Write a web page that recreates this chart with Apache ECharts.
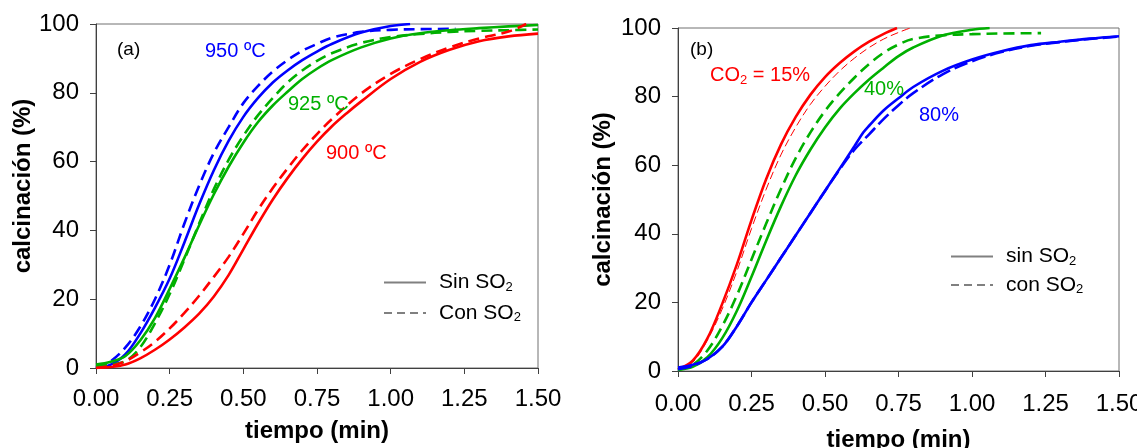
<!DOCTYPE html>
<html><head><meta charset="utf-8">
<script src="https://cdn.jsdelivr.net/npm/echarts@6/dist/echarts.min.js"></script>
<style>html,body{margin:0;padding:0;background:#fff}#c{width:1137px;height:448px}</style>
</head><body><div id="c"></div>
<script>
// ---------- data: panel (a), temperature effect ----------
const tA950sin = [0,0.05,0.1,0.15,0.2,0.25,0.3,0.35,0.4,0.45,0.5,0.55,0.6,0.65,0.7,0.75,0.8,0.9,1.0,1.066];
const cA950sin = [0,1,4,10,17.5,26,36.5,47.5,57.5,66,73,78.5,83,86.5,89.5,92,94.2,97.5,99.4,100];
const tA950con = [0,0.05,0.1,0.15,0.2,0.25,0.3,0.35,0.4,0.45,0.5,0.55,0.6,0.65,0.7,0.75,0.8,0.9,1.0,1.1,1.22];
const cA950con = [0,2,6,12,20,30,42,53,62.5,70,77,82,86.2,89.5,92.2,94.2,96,97.7,98.3,98.5,98.6];
const tA925sin = [0,0.05,0.1,0.15,0.2,0.25,0.3,0.35,0.4,0.45,0.5,0.55,0.6,0.65,0.7,0.75,0.8,0.9,1.0,1.1,1.2,1.3,1.4,1.5];
const cA925sin = [1,1.8,3.5,8,14.5,23,32,41.5,50.5,58.5,65.5,71.5,76.3,80.3,84,87,89.5,93.2,95.8,97.3,98.2,98.8,99.3,99.7];
const tA925con = [0,0.05,0.1,0.15,0.2,0.25,0.3,0.35,0.4,0.45,0.5,0.55,0.6,0.65,0.7,0.75,0.8,0.9,1.0,1.1,1.2,1.3,1.4,1.5];
const cA925con = [0.5,1,2,6,13,21.5,31.5,42,52,60.5,67.5,73.5,78.5,83,86.5,89.3,91.5,94.5,96.2,97.1,97.7,98,98.2,98.4];
const tA900sin = [0,0.05,0.1,0.15,0.2,0.25,0.3,0.35,0.4,0.45,0.5,0.55,0.6,0.65,0.7,0.75,0.8,0.85,0.9,1.0,1.1,1.2,1.3,1.4,1.5];
const cA900sin = [0,0.3,1,2.8,5.3,8.3,11.8,15.8,20.8,27,34.5,42,49,55.2,60.8,65.8,70.2,74,77.5,84,89,92.5,95,96.4,97.2];
const tA900con = [0,0.05,0.1,0.15,0.2,0.25,0.3,0.35,0.4,0.45,0.5,0.55,0.6,0.65,0.7,0.75,0.8,0.9,1.0,1.1,1.2,1.3,1.4,1.46];
const cA900con = [0,0.6,2,4.5,7.6,11.5,16,21,26.5,32.3,39,46,52.3,58,63.3,68,72.3,79.8,85.5,89.8,93.2,95.8,97.8,100];

// ---------- data: panel (b), CO2 effect ----------
const tB15sin = [0,0.05,0.1,0.15,0.2,0.25,0.3,0.35,0.4,0.45,0.5,0.55,0.6,0.65,0.7,0.745];
const cB15sin = [0.5,3,9.5,19.5,31,44,56,66,74,80.5,85.7,89.8,93.2,96,98.3,100];
const tB15con = [0,0.05,0.1,0.15,0.2,0.25,0.3,0.35,0.4,0.45,0.5,0.55,0.6,0.65,0.7,0.75,0.79];
const cB15con = [0.5,2.5,9,18,29,41.5,53,63,71,77.7,83,87.5,91.2,94.3,96.8,98.7,100];
const tB40sin = [0,0.05,0.1,0.15,0.2,0.25,0.3,0.35,0.4,0.45,0.5,0.55,0.6,0.65,0.7,0.75,0.8,0.9,1.0,1.06];
const cB40sin = [0.3,1.2,4,9.5,17.5,27.5,38,48,57,64.5,71,76.5,81,85,88.5,91.8,94.3,97.8,99.5,100];
const tB40con = [0,0.05,0.1,0.15,0.2,0.25,0.3,0.35,0.4,0.45,0.5,0.55,0.6,0.65,0.7,0.75,0.8,0.9,1.0,1.1,1.235];
const cB40con = [0.3,1.8,6,13,22,32.5,43,53,62,69.5,75.8,81,85.5,89.5,92.8,95.2,96.8,97.9,98.2,98.4,98.5];
const tB80sin = [0,0.05,0.1,0.15,0.2,0.25,0.3,0.35,0.4,0.45,0.5,0.55,0.6,0.63,0.65,0.7,0.75,0.8,0.9,1.0,1.1,1.2,1.3,1.4,1.5];
const cB80sin = [1,1.8,3.5,7,13,20,26.5,33,39.5,46,52.5,59,65.5,69.5,71.5,76,79.5,82.8,87.5,90.8,93.2,95,96,96.9,97.6];
const tB80con = [0,0.05,0.1,0.15,0.2,0.25,0.3,0.35,0.4,0.45,0.5,0.55,0.6,0.65,0.7,0.75,0.8,0.9,1.0,1.1,1.2,1.3,1.4,1.5];
const cB80con = [0.5,1.5,3.5,7,13,20,26.5,33,39.5,46,52.5,58.8,64.5,69,73.5,77.5,81,86.5,90.3,93,94.8,95.9,96.8,97.5];

const BLUE = '#0000ff', GREEN = '#00b000', RED = '#ff0000', GREY = '#808080';
const FONT = 'Liberation Sans, Arial, sans-serif';

function zip(t, c) { return t.map((v, i) => [v, c[i]]); }
function curve(name, g, t, c, color, dashed, width, dash) {
  return {
    type: 'line', name: name, xAxisIndex: g, yAxisIndex: g,
    data: zip(t, c), showSymbol: false, symbol: 'none', smooth: 0.35,
    lineStyle: { color: color, width: width || 2.6, type: dashed ? (dash || [11, 6]) : 'solid' },
    emphasis: { disabled: true }, silent: true, z: 3
  };
}
function dummy(name, g, dashed) {
  return {
    type: 'line', name: name, xAxisIndex: g, yAxisIndex: g, data: [], symbol: 'none',
    lineStyle: { color: GREY, width: 1.6, type: dashed ? [8, 5] : 'solid' },
    itemStyle: { color: 'rgba(0,0,0,0)', borderWidth: 0 }
  };
}
function xAx(g, gap, margin) {
  return {
    type: 'value', gridIndex: g, min: 0, max: 1.5, interval: 0.25,
    name: 'tiempo (min)', nameLocation: 'middle', nameGap: gap,
    nameTextStyle: { fontFamily: FONT, fontSize: 24, fontWeight: 'bold', color: '#000' },
    axisLine: { show: true, lineStyle: { color: '#404040', width: 1 } },
    axisTick: { show: true, inside: false, length: 6, lineStyle: { color: '#404040' } },
    axisLabel: { margin: margin, fontFamily: FONT, fontSize: 24, color: '#000', formatter: v => v.toFixed(2) },
    splitLine: { show: false }
  };
}
function yAx(g, gap, pad) {
  return {
    type: 'value', gridIndex: g, min: 0, max: 100, interval: 20,
    name: 'calcinación (%)', nameLocation: 'middle', nameGap: gap,
    nameTextStyle: { fontFamily: FONT, fontSize: 24, fontWeight: 'bold', color: '#000', padding: pad || 0 },
    axisLine: { show: true, lineStyle: { color: '#404040', width: 1 } },
    axisTick: { show: true, inside: false, length: 6, lineStyle: { color: '#404040' } },
    axisLabel: { margin: 17, fontFamily: FONT, fontSize: 24, color: '#000' },
    splitLine: { show: false }
  };
}
const richLeg = {
  t: { fontFamily: FONT, fontSize: 21, color: '#000', lineHeight: 22, padding: [0, 0, 0, 8] },
  s: { fontFamily: FONT, fontSize: 13, color: '#000', lineHeight: 22, verticalAlign: 'bottom' }
};
function legFmt(n) { return '{t|' + n.slice(0, -1) + '}{s|2}'; }

function txt(x, y, text, color, size) {
  return { type: 'text', x: x, y: y, silent: true, z: 10,
    style: { text: text, fill: color, font: size + 'px ' + FONT, align: 'left', verticalAlign: 'middle' } };
}

const option = {
  animation: false,
  backgroundColor: '#fff',
  grid: [
    { left: 96, top: 24, width: 442, height: 344, show: true, borderColor: '#707070', borderWidth: 1,
      containLabel: false, outerBoundsMode: 'none' },
    { left: 678, top: 28, width: 441, height: 343, show: true, borderColor: '#707070', borderWidth: 1,
      containLabel: false, outerBoundsMode: 'none' }
  ],
  xAxis: [xAx(0, 51, 19), xAx(1, 57, 21)],
  yAxis: [yAx(0, 59, [0, 0, 0, 20]), yAx(1, 63)],
  legend: [
    { data: ['Sin SO2', 'Con SO2'], orient: 'vertical', left: 383, top: 272, padding: 0, itemWidth: 42, itemHeight: 14,
      itemGap: 9, selectedMode: false, formatter: legFmt, textStyle: { rich: richLeg },
      itemStyle: { opacity: 0, borderWidth: 0 } },
    { data: ['sin SO2', 'con SO2'], orient: 'vertical', left: 950, top: 246, padding: 0, itemWidth: 42, itemHeight: 14,
      itemGap: 7, selectedMode: false, formatter: legFmt, textStyle: { rich: richLeg },
      itemStyle: { opacity: 0, borderWidth: 0 } }
  ],
  graphic: [
    txt(117, 50, '(a)', '#000', 19),
    txt(205, 51, '950 ºC', BLUE, 20),
    txt(288, 104, '925 ºC', GREEN, 20),
    txt(326, 153, '900 ºC', RED, 20),
    txt(690, 50, '(b)', '#000', 19),
    { type: 'text', x: 710, y: 75, silent: true, z: 10,
      style: { text: '{a|CO}{s|2}{a| = 15%}', align: 'left', verticalAlign: 'middle',
        rich: { a: { fill: RED, fontSize: 20, fontFamily: FONT, lineHeight: 24 },
                s: { fill: RED, fontSize: 13, fontFamily: FONT, lineHeight: 24, verticalAlign: 'bottom' } } } },
    txt(864, 89, '40%', GREEN, 20),
    txt(919, 115, '80%', BLUE, 20)
  ],
  series: [
    curve('950 sin', 0, tA950sin, cA950sin, BLUE, false),
    curve('950 con', 0, tA950con, cA950con, BLUE, true),
    curve('925 sin', 0, tA925sin, cA925sin, GREEN, false),
    curve('925 con', 0, tA925con, cA925con, GREEN, true),
    curve('900 sin', 0, tA900sin, cA900sin, RED, false),
    curve('900 con', 0, tA900con, cA900con, RED, true),
    curve('15 sin', 1, tB15sin, cB15sin, RED, false),
    curve('15 con', 1, tB15con, cB15con, RED, true, 1, [8, 4]),
    curve('40 sin', 1, tB40sin, cB40sin, GREEN, false),
    curve('40 con', 1, tB40con, cB40con, GREEN, true),
    curve('80 sin', 1, tB80sin, cB80sin, BLUE, false),
    curve('80 con', 1, tB80con, cB80con, BLUE, true, 2.6, [14, 5]),
    dummy('Sin SO2', 0, false), dummy('Con SO2', 0, true),
    dummy('sin SO2', 1, false), dummy('con SO2', 1, true)
  ]
};
const chart = echarts.init(document.getElementById('c'), null, { renderer: 'canvas' });
chart.setOption(option);
</script>
</body></html>
